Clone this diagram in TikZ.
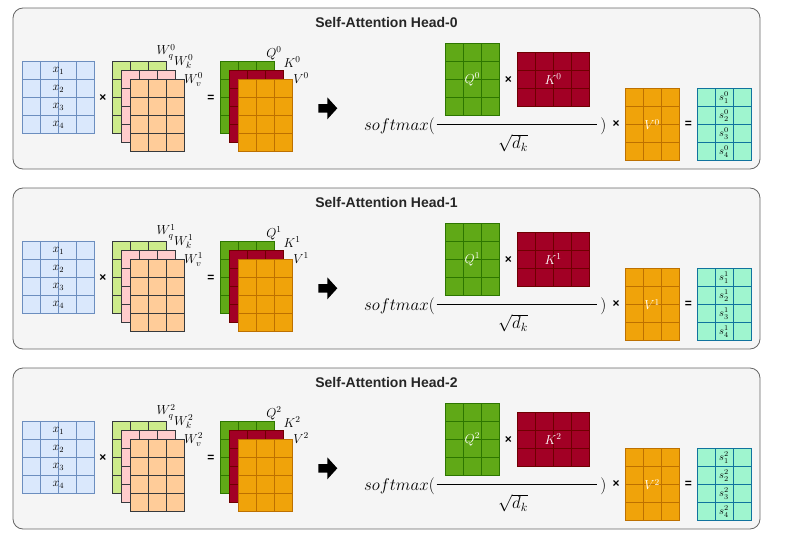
\RequirePackage{fix-cm}
\documentclass[tikz,border=0pt]{standalone}
\usepackage{fontspec}
\setmainfont{Liberation Sans}
\definecolor{panelfill}{HTML}{F5F5F5}
\definecolor{panelline}{HTML}{666666}
\definecolor{xfill}{HTML}{DAE8FC}
\definecolor{xline}{HTML}{6C8EBF}
\definecolor{wline}{HTML}{36393D}
\definecolor{wqfill}{HTML}{CDEB8B}
\definecolor{wkfill}{HTML}{FFCCCC}
\definecolor{wvfill}{HTML}{FFCC99}
\definecolor{qfill}{HTML}{60A917}
\definecolor{qline}{HTML}{2D7600}
\definecolor{kfill}{HTML}{A20025}
\definecolor{kline}{HTML}{6F0000}
\definecolor{vfill}{HTML}{F0A30A}
\definecolor{vline}{HTML}{BD7000}
\definecolor{sfill}{HTML}{9FF5CF}
\definecolor{sline}{HTML}{10739E}
\newcommand{\gridmat}[5]{%
  \node[#5, minimum width=#3*18pt, minimum height=#4*18pt] (#1) at (#2) {};
  \draw[#5, fill=none, shift={(#1.south west)}] (0pt,0pt) grid[step=18pt] (#3*18pt,#4*18pt);
}
\begin{document}
\begin{tikzpicture}[
            x=1pt, y=-1pt,
            panel/.style={draw=panelline, fill=panelfill, line width=0.8pt, rounded corners=10pt},
            title/.style={font=\fontsize{14}{16}\selectfont\bfseries, text=black!85},
            mat/.style={line width=0.8pt, inner sep=0, outer sep=0},
            xmat/.style={mat, draw=xline, fill=xfill},
            wqmat/.style={mat, draw=wline, fill=wqfill},
            wkmat/.style={mat, draw=wline, fill=wkfill},
            wvmat/.style={mat, draw=wline, fill=wvfill},
            qmat/.style={mat, draw=qline, fill=qfill},
            kmat/.style={mat, draw=kline, fill=kfill},
            vmat/.style={mat, draw=vline, fill=vfill},
            smat/.style={mat, draw=sline, fill=sfill},
            lbl/.style={inner sep=0, font=\fontsize{13}{15}\selectfont},
            xlbl/.style={inner sep=0, font=\fontsize{12}{14}\selectfont},
            slbl/.style={inner sep=0, font=\fontsize{10.5}{12}\selectfont},
            formula/.style={inner sep=0, font=\fontsize{17}{20}\selectfont},
            op/.style={inner sep=0, font=\fontsize{12}{14}\selectfont\bfseries}
            ]
        \useasboundingbox (0,0) rectangle (785,546);
        \foreach \h in {0,1,2}{
        \begin{scope}[shift={(0,180*\h)}]
            \node[panel, minimum width=747pt, minimum height=161pt] (box\h) at (386.5,88.5) {};
            \node[title] (t\h) at (386.5,22) {Self-Attention Head-\h};
            % input and weights
            \gridmat{X\h}{58.3,97.7}{4}{4}{xmat}
            \foreach \r in {1,...,4}
                \node[xlbl] (x\h\r) at ([yshift={(2.5-\r)*18pt}]X\h.center) {$x_{\r}$};
            \node[op] (m1\h) at (103,98) {×};
            \gridmat{Wq\h}{139.3,97}{3}{4}{wqmat}
            \gridmat{Wk\h}{148.3,106}{3}{4}{wkmat}
            \gridmat{Wv\h}{157.3,115}{3}{4}{wvmat}
            \node[lbl] (wql\h) at (166,52) {$W_q^{\h}$};
            \node[lbl] (wkl\h) at (183.7,62) {$W_k^{\h}$};
            \node[lbl] (wvl\h) at (193.5,80) {$W_v^{\h}$};
            \node[op] (e1\h) at (211,98) {=};
            \gridmat{Q\h}{247,97}{3}{4}{qmat}
            \gridmat{K\h}{256,106}{3}{4}{kmat}
            \gridmat{V\h}{265,115}{3}{4}{vmat}
            \node[lbl] (ql\h) at (274,53) {$Q^{\h}$};
            \node[lbl] (kl\h) at (292,62) {$K^{\h}$};
            \node[lbl] (vl\h) at (301,78) {$V^{\h}$};
            \coordinate (arr\h) at (318.3,108.3);
            \fill ([yshift=4.2pt]arr\h) -- ++(9pt,0) -- ++(0,6.8pt) -- ++(10pt,-11pt)
                -- ++(-10pt,-11pt) -- ++(0,6.8pt) -- ++(-9pt,0) -- cycle;
            % attention
            \gridmat{Qm\h}{472.3,79.3}{3}{4}{qmat}
            \node[lbl, text=white] (qml\h) at (Qm\h.center) {$Q^{\h}$};
            \node[op] (m2\h) at (508.3,80) {×};
            \gridmat{Km\h}{553,79.3}{4}{3}{kmat}
            \node[lbl, text=white] (kml\h) at (Km\h.center) {$K^{\h}$};
            \node[formula, anchor=east] (sm\h) at (435,126) {$softmax($};
            \coordinate (fl\h) at (436.7,124.3);
            \coordinate (fr\h) at (597.3,124.3);
            \draw[line width=0.8pt] (fl\h) -- (fr\h);
            \node[formula] (rp\h) at (603.3,126) {$)$};
            \node[formula] (dk\h) at (513,143.3) {$\sqrt{d_k}$};
            \node[op] (m3\h) at (616,124.3) {×};
            \gridmat{Vm\h}{652,124.5}{3}{4}{vmat}
            \node[lbl, text=white] (vml\h) at (Vm\h.center) {$V^{\h}$};
            \node[op] (e2\h) at (688.3,124.3) {=};
            \gridmat{S\h}{724,124.5}{3}{4}{smat}
            \foreach \r in {1,...,4}
                \node[slbl] (s\h\r) at ([yshift={(2.5-\r)*18pt}]S\h.center) {$s_{\r}^{\h}$};
        \end{scope}
        }
\end{tikzpicture}
\end{document}
